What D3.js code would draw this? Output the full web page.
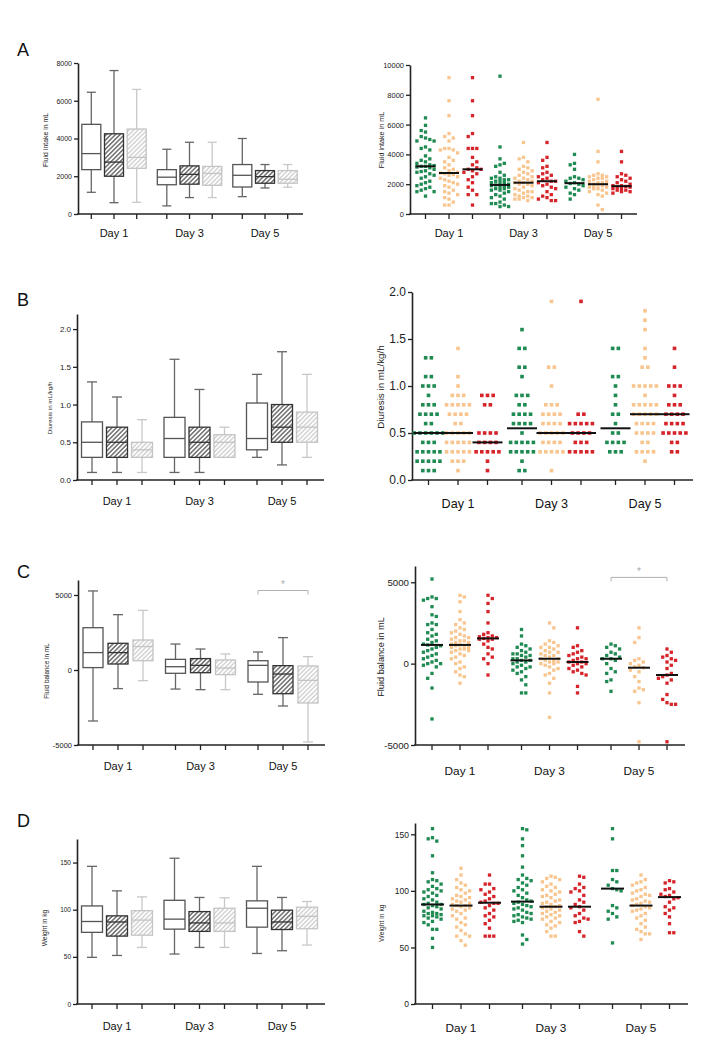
<!DOCTYPE html>
<html>
<head>
<meta charset="utf-8">
<script src="https://cdn.jsdelivr.net/npm/d3@7"></script>
<style>
  body { margin: 0; background: #fff; }
  text { font-family: "Liberation Sans", Arial, Helvetica, sans-serif; }
</style>
</head>
<body>
<svg id="fig" width="721" height="1051"></svg>
<script>
'use strict';

var days = ['Day 1', 'Day 3', 'Day 5'];
var groups = ['g1', 'g2', 'g3'];
var dotColors = ['#1f8a52', '#f8c58e', '#d6242b'];

// box stats: [min, q1, median, q3, max], order Day1 g1..g3, Day3 g1..g3, Day5 g1..g3
var intakeBox = [
  [1150, 2350, 3200, 4750, 6450], [600, 2000, 2750, 4250, 7600], [620, 2420, 3000, 4500, 6600],
  [430, 1550, 1950, 2350, 3430], [870, 1580, 2100, 2550, 3800], [870, 1520, 2150, 2520, 3800],
  [920, 1430, 2050, 2620, 4000], [1380, 1630, 1980, 2300, 2620], [1420, 1630, 1840, 2300, 2620]
];
var diuresisBox = [
  [0.1, 0.3, 0.5, 0.77, 1.3], [0.1, 0.3, 0.5, 0.7, 1.1], [0.1, 0.3, 0.4, 0.5, 0.8],
  [0.1, 0.3, 0.55, 0.83, 1.6], [0.1, 0.3, 0.5, 0.7, 1.2], [0.3, 0.3, 0.5, 0.6, 0.7],
  [0.3, 0.4, 0.55, 1.02, 1.4], [0.2, 0.5, 0.7, 1.0, 1.7], [0.3, 0.5, 0.7, 0.9, 1.4]
];
var balanceBox = [
  [-3400, 160, 1160, 2820, 5270], [-1240, 400, 1160, 1780, 3690], [-710, 620, 1560, 2000, 3980],
  [-1270, -220, 220, 710, 1730], [-1310, -180, 310, 760, 1400], [-1310, -310, 130, 670, 1070],
  [-1620, -800, 310, 620, 1200], [-2400, -1580, -270, 290, 2160], [-4800, -2200, -690, 270, 890]
];
var weightBox = [
  [49.5, 76, 87.5, 104, 146], [51.5, 72, 87, 93.5, 120], [60, 73, 89, 99, 113.6],
  [53, 79.4, 90, 110, 154.6], [60, 77, 86, 98, 113], [60, 77, 86, 101.6, 112.6],
  [53.6, 81.5, 101.6, 109.4, 146], [56.5, 79, 87, 99.5, 113], [62.5, 79.8, 93, 102.7, 108.7]
];

// individual values for the scatter plots, same order
var intakeDots = [
  [6450, 5950, 5600, 5500, 5200, 5100, 5000, 4900, 4900, 4500, 4400, 4300, 3900, 3700, 3600, 3500, 3400, 3300, 3250, 3200, 3200, 3150, 3100, 3000, 2900, 2850, 2800, 2700, 2600, 2500, 2400, 2200, 2100, 2000, 1900, 1800, 1700, 1600, 1500, 1500, 1200],
  [9150, 7600, 6600, 5400, 5200, 5100, 4900, 4400, 4400, 4300, 4300, 4100, 3800, 3600, 3500, 3300, 3100, 3000, 2900, 2800, 2750, 2700, 2650, 2600, 2500, 2400, 2300, 2200, 2100, 2000, 1900, 1800, 1600, 1500, 1400, 1300, 1100, 1000, 800, 600, 600],
  [9150, 7600, 6600, 5400, 5200, 4400, 4400, 4400, 3800, 3500, 3300, 3100, 3000, 3000, 2900, 2800, 2700, 2500, 2300, 2100, 1800, 1600, 1300, 1300, 600],
  [9250, 4500, 3700, 3400, 3300, 3200, 2800, 2600, 2500, 2400, 2400, 2300, 2300, 2200, 2200, 2100, 2100, 2000, 2000, 1950, 1900, 1900, 1800, 1800, 1700, 1700, 1600, 1600, 1500, 1400, 1300, 1200, 1100, 1000, 800, 700, 700, 600, 500, 500],
  [4800, 3800, 3700, 3500, 3200, 3100, 3000, 2900, 2800, 2700, 2600, 2500, 2400, 2400, 2300, 2200, 2200, 2100, 2100, 2000, 2000, 1900, 1800, 1700, 1600, 1500, 1500, 1400, 1300, 1200, 1200, 1100, 1100, 1000, 1000, 900],
  [4800, 3800, 3600, 3200, 3100, 2800, 2700, 2600, 2500, 2400, 2300, 2200, 2200, 2100, 2000, 1900, 1800, 1700, 1500, 1300, 1200, 1100, 1000, 900, 900],
  [4000, 3400, 3300, 3000, 2500, 2400, 2400, 2300, 2200, 2100, 2050, 2000, 1900, 1800, 1700, 1600, 1400, 1300, 1000],
  [7700, 4200, 3500, 2700, 2600, 2600, 2500, 2500, 2400, 2400, 2300, 2200, 2200, 2100, 2100, 2000, 2000, 2000, 1950, 1900, 1900, 1800, 1800, 1700, 1700, 1600, 1500, 1400, 1300, 1200, 600, 300],
  [4200, 3500, 2700, 2600, 2500, 2400, 2300, 2200, 2100, 2000, 1900, 1900, 1850, 1800, 1800, 1700, 1700, 1600, 1600, 1500, 1500, 1400]
];
var intakeMedians = [3200, 2750, 3000, 1950, 2100, 2200, 2070, 2000, 1870];

var diuresisDots = [
  [1.3, 1.3, 1.1, 1.1, 1.0, 1.0, 1.0, 0.9, 0.8, 0.8, 0.8, 0.7, 0.7, 0.7, 0.7, 0.6, 0.6, 0.5, 0.5, 0.5, 0.5, 0.5, 0.5, 0.4, 0.4, 0.4, 0.3, 0.3, 0.3, 0.3, 0.3, 0.2, 0.2, 0.2, 0.2, 0.2, 0.1, 0.1, 0.1],
  [1.4, 1.1, 1.0, 0.9, 0.9, 0.9, 0.8, 0.8, 0.8, 0.8, 0.8, 0.7, 0.7, 0.7, 0.7, 0.6, 0.6, 0.5, 0.5, 0.5, 0.5, 0.5, 0.4, 0.4, 0.4, 0.4, 0.4, 0.3, 0.3, 0.3, 0.3, 0.3, 0.2, 0.2, 0.2, 0.1],
  [0.9, 0.9, 0.9, 0.8, 0.8, 0.5, 0.5, 0.5, 0.5, 0.4, 0.4, 0.4, 0.4, 0.3, 0.3, 0.3, 0.3, 0.3, 0.2, 0.1],
  [1.6, 1.4, 1.4, 1.2, 1.2, 1.1, 0.9, 0.9, 0.9, 0.8, 0.8, 0.7, 0.7, 0.7, 0.7, 0.6, 0.6, 0.6, 0.6, 0.5, 0.4, 0.4, 0.4, 0.4, 0.4, 0.3, 0.3, 0.3, 0.3, 0.3, 0.2, 0.1, 0.1],
  [1.9, 1.2, 1.2, 1.0, 0.8, 0.8, 0.8, 0.7, 0.7, 0.7, 0.7, 0.6, 0.6, 0.6, 0.6, 0.5, 0.5, 0.5, 0.5, 0.5, 0.4, 0.4, 0.4, 0.4, 0.3, 0.3, 0.3, 0.3, 0.3, 0.1],
  [1.9, 0.7, 0.7, 0.6, 0.6, 0.6, 0.6, 0.6, 0.5, 0.5, 0.5, 0.5, 0.4, 0.4, 0.4, 0.3, 0.3, 0.3, 0.3, 0.3],
  [1.4, 1.4, 1.1, 1.1, 1.0, 0.9, 0.8, 0.7, 0.7, 0.6, 0.5, 0.5, 0.4, 0.4, 0.4, 0.4, 0.3, 0.3, 0.3],
  [1.8, 1.7, 1.6, 1.4, 1.3, 1.2, 1.2, 1.0, 1.0, 1.0, 1.0, 1.0, 0.9, 0.8, 0.8, 0.8, 0.8, 0.8, 0.7, 0.7, 0.7, 0.7, 0.7, 0.6, 0.6, 0.6, 0.6, 0.5, 0.5, 0.5, 0.5, 0.4, 0.4, 0.3, 0.3, 0.3, 0.3, 0.2],
  [1.4, 1.2, 1.0, 1.0, 1.0, 0.9, 0.8, 0.8, 0.8, 0.7, 0.7, 0.7, 0.7, 0.6, 0.6, 0.6, 0.6, 0.5, 0.5, 0.5, 0.5, 0.5, 0.4, 0.4, 0.3, 0.3]
];
var diuresisMedians = [0.5, 0.5, 0.4, 0.55, 0.5, 0.5, 0.55, 0.7, 0.7];

var balanceDots = [
  [5200, 4100, 4000, 4000, 3900, 3500, 3000, 2900, 2500, 2400, 2400, 2100, 1900, 1800, 1700, 1500, 1400, 1300, 1200, 1150, 1100, 1000, 900, 800, 700, 600, 500, 400, 300, 200, 100, 0, 0, -100, -200, -600, -900, -1500, -3400],
  [4200, 4100, 3800, 3200, 2700, 2500, 2400, 2200, 2100, 2000, 1900, 1800, 1700, 1600, 1600, 1500, 1400, 1400, 1300, 1300, 1200, 1150, 1100, 1100, 1000, 1000, 900, 900, 800, 800, 700, 600, 500, 400, 300, 100, 0, -200, -300, -500, -700, -800, -1200],
  [4200, 4000, 3700, 3200, 2500, 1900, 1800, 1700, 1650, 1600, 1600, 1550, 1500, 1500, 1400, 1200, 1000, 900, 600, 400, 300, 0, -700],
  [2100, 1700, 1200, 1100, 1000, 900, 800, 700, 600, 600, 500, 500, 400, 300, 300, 200, 200, 100, 100, 0, -100, -200, -200, -300, -400, -500, -600, -800, -1000, -1300, -1800, -1800],
  [2500, 2200, 1400, 1300, 1200, 1100, 1000, 1000, 900, 800, 700, 700, 600, 500, 500, 400, 300, 300, 200, 200, 100, 100, 0, 0, -100, -200, -300, -400, -600, -700, -900, -1200, -1800, -3300],
  [2200, 1100, 1000, 800, 700, 600, 500, 400, 300, 300, 200, 100, 100, 0, 0, -100, -200, -300, -400, -500, -600, -700, -1400, -1800],
  [1200, 1100, 1000, 900, 700, 600, 500, 400, 300, 300, 200, 0, -300, -500, -600, -1000, -1100, -1700],
  [2200, 1600, 1300, 300, 200, 100, 0, -100, -200, -250, -400, -500, -800, -1100, -1500, -1600, -1700, -2400, -4800],
  [900, 700, 500, 400, 300, 200, 100, -100, -300, -600, -700, -800, -900, -1000, -1200, -1900, -2200, -2400, -2500, -2500, -4800]
];
var balanceMedians = [1150, 1150, 1550, 200, 300, 100, 300, -250, -700];

var weightDots = [
  [155, 147, 146, 144, 131, 116, 110, 109, 108, 106, 104, 102, 101, 100, 99, 98, 96, 95, 93, 92, 90, 89, 88, 88, 87, 86, 85, 84, 82, 81, 80, 80, 79, 78, 78, 77, 76, 75, 73, 72, 70, 66, 66, 58, 50],
  [120, 114, 110, 107, 105, 103, 101, 100, 98, 96, 95, 94, 93, 92, 91, 90, 89, 88, 87, 87, 86, 85, 84, 83, 82, 80, 78, 76, 75, 72, 70, 68, 65, 62, 60, 60, 56, 52],
  [114, 106, 106, 102, 101, 99, 97, 95, 93, 91, 90, 89, 89, 87, 85, 83, 80, 78, 77, 74, 71, 67, 60, 60, 60],
  [155, 154, 146, 140, 131, 121, 114, 111, 110, 109, 107, 105, 103, 101, 100, 98, 96, 94, 92, 91, 90, 89, 88, 87, 86, 85, 84, 83, 81, 80, 79, 78, 77, 76, 75, 74, 73, 72, 61, 57, 53],
  [113, 112, 111, 110, 108, 106, 104, 103, 101, 100, 99, 97, 96, 95, 94, 92, 91, 90, 89, 88, 87, 86, 86, 85, 84, 83, 82, 81, 80, 79, 78, 77, 76, 75, 73, 72, 70, 69, 67, 64, 60, 60],
  [113, 112, 106, 103, 102, 100, 99, 96, 92, 90, 88, 86, 85, 83, 80, 78, 76, 75, 73, 72, 64, 60],
  [155, 146, 118, 118, 110, 108, 105, 102, 101, 100, 87, 85, 82, 80, 77, 75, 54],
  [114, 110, 108, 107, 105, 103, 101, 100, 98, 97, 96, 95, 93, 92, 91, 90, 89, 88, 87, 86, 85, 84, 83, 82, 80, 78, 76, 74, 71, 68, 66, 64, 62, 62, 57],
  [109, 108, 107, 102, 101, 99, 97, 96, 95, 94, 93, 90, 86, 85, 83, 80, 77, 71, 63, 63]
];
var weightMedians = [88, 87, 89.5, 90.5, 86, 86, 102, 87, 94.5];

// Day 5, group 1 vs group 3 in the fluid balance panels
var sigBracket = { day: 'Day 5', from: 'g1', to: 'g3', level: 5300, label: '*' };

var svg = d3.select('#fig');
var defs = svg.append('defs');

function hatch(id, color) {
  var p = defs.append('pattern').attr('id', id).attr('patternUnits', 'userSpaceOnUse')
    .attr('width', 3.2).attr('height', 3.2).attr('patternTransform', 'rotate(45)');
  p.append('rect').attr('width', 3.2).attr('height', 3.2).attr('fill', '#fff');
  p.append('line').attr('x1', 0.8).attr('x2', 0.8).attr('y1', 0).attr('y2', 3.2)
    .attr('stroke', color).attr('stroke-width', 1.1);
}
hatch('hatchDark', '#3a3a3a');
hatch('hatchLight', '#c4c4c4');

var boxFill = ['#fff', 'url(#hatchDark)', 'url(#hatchLight)'];
var boxStroke = ['#555', '#333', '#c4c4c4'];
var whiskStroke = ['#666', '#666', '#c8c8c8'];

var fmtInt = function (d) { return String(d); };
var fmtDec = d3.format('.1f');

function positions(p) {
  var xDay = d3.scalePoint().domain(days).range(p.days);
  var xGrp = d3.scalePoint().domain(groups).range([-p.off, p.off]);
  var items = [];
  days.forEach(function (d, i) {
    groups.forEach(function (k, j) {
      items.push({ i: i * 3 + j, j: j, day: d, grp: k, x: xDay(d) + xGrp(k) });
    });
  });
  return { xDay: xDay, xGrp: xGrp, items: items };
}

function axes(g, p, y, pos) {
  var ya = g.append('g').attr('transform', 'translate(' + p.x0 + ',0)')
    .call(d3.axisLeft(y).tickValues(p.ticks).tickSize(4).tickSizeOuter(0).tickPadding(2).tickFormat(p.fmt));
  ya.attr('font-family', null).attr('font-size', null);
  ya.select('.domain').attr('stroke', '#222').attr('stroke-width', 1.6);
  ya.selectAll('.tick line').attr('stroke', '#222').attr('stroke-width', 1.3);
  ya.selectAll('.tick text').attr('font-size', p.tickFs).attr('fill', '#222');

  g.append('line').attr('x1', p.x0 - 0.8).attr('x2', p.x1).attr('y1', p.y0).attr('y2', p.y0)
    .attr('stroke', '#222').attr('stroke-width', 1.6);
  g.selectAll('.xtick').data(pos.items).join('line')
    .attr('x1', function (d) { return d.x; }).attr('x2', function (d) { return d.x; })
    .attr('y1', p.y0).attr('y2', p.y0 + 5)
    .attr('stroke', '#222').attr('stroke-width', 1.3);
  g.selectAll('.daylab').data(days).join('text')
    .attr('x', function (d) { return pos.xDay(d); }).attr('y', p.dayY)
    .attr('text-anchor', 'middle').attr('font-size', p.dayFs).attr('fill', '#111')
    .text(function (d) { return d; });

  g.append('text').attr('transform', 'translate(' + p.titleX + ',' + p.titleY + ') rotate(-90)')
    .attr('text-anchor', 'middle').attr('font-size', p.titleFs).attr('fill', '#222').text(p.title);
  if (p.letter) {
    g.append('text').attr('x', 17).attr('y', p.letterY).attr('font-size', 18).attr('fill', '#111').text(p.letter);
  }
}

function bracket(g, p, y, pos) {
  var x1 = pos.xDay(sigBracket.day) + pos.xGrp(sigBracket.from);
  var x2 = pos.xDay(sigBracket.day) + pos.xGrp(sigBracket.to);
  var yb = y(sigBracket.level);
  g.append('path').attr('d', 'M' + x1 + ',' + (yb + 4) + 'V' + yb + 'H' + x2 + 'V' + (yb + 4))
    .attr('fill', 'none').attr('stroke', '#b0b0b0').attr('stroke-width', 1);
  g.append('text').attr('x', (x1 + x2) / 2).attr('y', yb + p.starDy).attr('text-anchor', 'middle')
    .attr('font-size', 10).attr('fill', '#aaa').text(sigBracket.label);
}

function boxPanel(p, stats) {
  var g = svg.append('g');
  var y = d3.scaleLinear().domain(p.domain).range([p.y0, p.yTop]);
  var pos = positions(p);
  axes(g, p, y, pos);
  var h = p.bw / 2, c = p.cap / 2;
  var b = g.selectAll('.box').data(pos.items).join('g');
  b.append('line').attr('x1', function (d) { return d.x; }).attr('x2', function (d) { return d.x; })
    .attr('y1', function (d) { return y(stats[d.i][4]); }).attr('y2', function (d) { return y(stats[d.i][0]); })
    .attr('stroke', function (d) { return whiskStroke[d.j]; }).attr('stroke-width', 1.3);
  [0, 4].forEach(function (k) {
    b.append('line').attr('x1', function (d) { return d.x - c; }).attr('x2', function (d) { return d.x + c; })
      .attr('y1', function (d) { return y(stats[d.i][k]); }).attr('y2', function (d) { return y(stats[d.i][k]); })
      .attr('stroke', function (d) { return whiskStroke[d.j]; }).attr('stroke-width', 1.3);
  });
  b.append('rect').attr('x', function (d) { return d.x - h; }).attr('width', p.bw)
    .attr('y', function (d) { return y(stats[d.i][3]); })
    .attr('height', function (d) { return y(stats[d.i][1]) - y(stats[d.i][3]); })
    .attr('fill', function (d) { return boxFill[d.j]; })
    .attr('stroke', function (d) { return boxStroke[d.j]; }).attr('stroke-width', 1.3);
  b.append('line').attr('x1', function (d) { return d.x - h; }).attr('x2', function (d) { return d.x + h; })
    .attr('y1', function (d) { return y(stats[d.i][2]); }).attr('y2', function (d) { return y(stats[d.i][2]); })
    .attr('stroke', function (d) { return boxStroke[d.j]; }).attr('stroke-width', 1.3);
  if (p.sig) bracket(g, p, y, pos);
}

// rows of equal values, centred on the group position
function rowLayout(vals, y, step) {
  var pts = vals.map(function (v) { return { v: v, py: y(v) }; });
  d3.group(pts, function (d) { return d.v; }).forEach(function (arr) {
    arr.forEach(function (d, i) { d.dx = (i - (arr.length - 1) / 2) * step; });
  });
  return pts;
}

// greedy swarm for continuous values, kept within +-maxDx of the group centre
function swarm(vals, y, gapY, step, maxDx) {
  var pts = vals.map(function (v) { return { v: v, py: y(v) }; })
    .sort(function (a, b) { return a.py - b.py; });
  var placed = [];
  pts.forEach(function (d, i) {
    var side = i % 2 ? 1 : -1;
    var best = null, bestGap = -1;
    for (var k = 0; k < 40; k++) {
      var dx = k === 0 ? 0 : (k % 2 ? side : -side) * Math.ceil(k / 2) * step;
      if (Math.abs(dx) > maxDx) continue;
      var near = placed.filter(function (q) { return Math.abs(q.dx - dx) < step - 0.01; });
      var gap = d3.min(near, function (q) { return Math.abs(q.py - d.py); });
      if (gap === undefined) gap = Infinity;
      if (gap >= gapY) { best = dx; break; }
      if (gap > bestGap) { bestGap = gap; best = dx; }
    }
    d.dx = best;
    placed.push(d);
  });
  return pts;
}

function dotPanel(p, dots, medians) {
  var g = svg.append('g');
  var y = d3.scaleLinear().domain(p.domain).range([p.y0, p.yTop]);
  var pos = positions(p);
  axes(g, p, y, pos);
  var s = p.size;
  pos.items.forEach(function (it) {
    var pts = p.rows ? rowLayout(dots[it.i], y, p.step) : swarm(dots[it.i], y, p.gapY, p.step, p.maxDx);
    g.append('g').selectAll('rect').data(pts).join('rect')
      .attr('x', function (d) { return it.x + d.dx - s / 2; })
      .attr('y', function (d) { return d.py - s / 2; })
      .attr('width', s).attr('height', s)
      .attr('fill', dotColors[it.j]);
  });
  g.selectAll('.med').data(pos.items).join('line')
    .attr('x1', function (d) { return d.x - p.mw / 2; }).attr('x2', function (d) { return d.x + p.mw / 2; })
    .attr('y1', function (d) { return y(medians[d.i]); }).attr('y2', function (d) { return y(medians[d.i]); })
    .attr('stroke', '#111').attr('stroke-width', 2);
  if (p.sig) bracket(g, p, y, pos);
}

boxPanel({ x0: 78, x1: 303, y0: 214, yTop: 63, domain: [0, 8000], ticks: [0, 2000, 4000, 6000, 8000], fmt: fmtInt,
  days: [114, 265], off: 22.7, bw: 19, cap: 9, tickFs: 7, dayFs: 11, dayY: 237,
  title: 'Fluid intake in mL', titleX: 48, titleY: 140, titleFs: 6.9, letter: 'A', letterY: 56 }, intakeBox);
dotPanel({ x0: 410, x1: 637, y0: 214, yTop: 65, domain: [0, 10000], ticks: [0, 2000, 4000, 6000, 8000, 10000], fmt: fmtInt,
  days: [449, 598], off: 23.5, mw: 20, size: 3.3, step: 4.3, gapY: 5.6, maxDx: 9, tickFs: 7.5, dayFs: 11, dayY: 237,
  title: 'Fluid intake in mL', titleX: 384, titleY: 140, titleFs: 7.2 }, intakeDots, intakeMedians);

boxPanel({ x0: 77, x1: 324, y0: 480, yTop: 314, domain: [0, 2.2], ticks: [0, 0.5, 1, 1.5, 2], fmt: fmtDec,
  days: [117, 282], off: 25, bw: 21, cap: 10, tickFs: 8, dayFs: 11, dayY: 505,
  title: 'Diuresis in mL/kg/h', titleX: 52, titleY: 408, titleFs: 6.2, letter: 'B', letterY: 306 }, diuresisBox);
dotPanel({ x0: 412, x1: 693, y0: 480, yTop: 292, domain: [0, 2], ticks: [0, 0.5, 1, 1.5, 2], fmt: fmtDec,
  days: [458, 645], off: 29.5, mw: 30, size: 3.6, step: 5.7, rows: true, tickFs: 12, dayFs: 12.6, dayY: 508,
  title: 'Diuresis in mL/kg/h', titleX: 384, titleY: 387, titleFs: 9.8 }, diuresisDots, diuresisMedians);

boxPanel({ x0: 78, x1: 325, y0: 745, yTop: 580, domain: [-5000, 6000], ticks: [-5000, 0, 5000], fmt: fmtInt,
  days: [118, 283], off: 25, bw: 20, cap: 10, tickFs: 7.5, dayFs: 11, dayY: 770,
  title: 'Fluid balance in mL', titleX: 49, titleY: 671, titleFs: 6.4, letter: 'C', letterY: 578,
  sig: true, starDy: -3 }, balanceBox);
dotPanel({ x0: 415, x1: 685, y0: 745, yTop: 566, domain: [-5000, 6000], ticks: [-5000, 0, 5000], fmt: fmtInt,
  days: [460, 639], off: 28, mw: 22, size: 3.3, step: 4.3, gapY: 5.6, maxDx: 11, tickFs: 9.7, dayFs: 11.8, dayY: 775,
  title: 'Fluid balance in mL', titleX: 384, titleY: 657, titleFs: 9.2, sig: true, starDy: -2 }, balanceDots, balanceMedians);

boxPanel({ x0: 77, x1: 325, y0: 1004, yTop: 839, domain: [0, 175], ticks: [0, 50, 100, 150], fmt: fmtInt,
  days: [117, 282], off: 25, bw: 21, cap: 10, tickFs: 6.5, dayFs: 11, dayY: 1030,
  title: 'Weight in kg', titleX: 47, titleY: 928, titleFs: 6.7, letter: 'D', letterY: 827 }, weightBox);
dotPanel({ x0: 415, x1: 688, y0: 1004, yTop: 823, domain: [0, 160], ticks: [0, 50, 100, 150], fmt: fmtInt,
  days: [461, 641], off: 28.5, mw: 23, size: 3.3, step: 4.3, gapY: 6, maxDx: 11, tickFs: 8.5, dayFs: 11.8, dayY: 1032,
  title: 'Weight in kg', titleX: 384, titleY: 923, titleFs: 6.8 }, weightDots, weightMedians);
</script>
</body>
</html>
